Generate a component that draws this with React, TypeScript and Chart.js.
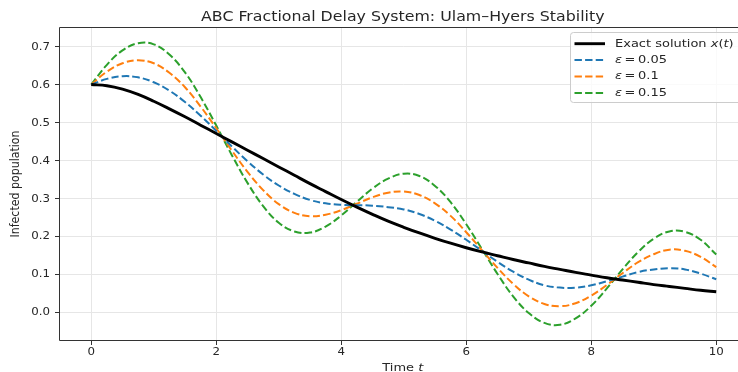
import { useEffect, useRef } from "react";
import { Chart, registerables } from "chart.js";

Chart.register(...registerables);

// ---- data ----
const timeT = [
  0, 0.25, 0.5, 0.75, 1, 1.25, 1.5, 1.75, 2, 2.25, 2.5, 2.75, 3, 3.25, 3.5, 3.75, 4, 4.25, 4.5, 4.75, 5,
  5.25, 5.5, 5.75, 6, 6.25, 6.5, 6.75, 7, 7.25, 7.5, 7.75, 8, 8.25, 8.5, 8.75, 9, 9.25, 9.5, 9.75, 10,
];
const exactX = [
  0.6, 0.597, 0.588, 0.574, 0.556, 0.536, 0.515, 0.493, 0.471, 0.449, 0.427, 0.405, 0.383, 0.361, 0.339,
  0.318, 0.297, 0.277, 0.258, 0.24, 0.224, 0.209, 0.195, 0.182, 0.17, 0.159, 0.149, 0.139, 0.13, 0.121,
  0.113, 0.105, 0.098, 0.091, 0.085, 0.079, 0.073, 0.068, 0.063, 0.058, 0.054,
];
const eps005 = [
  0.6, 0.615, 0.622, 0.619, 0.606, 0.584, 0.554, 0.518, 0.478, 0.437, 0.398, 0.363, 0.334, 0.312, 0.296,
  0.287, 0.283, 0.282, 0.281, 0.277, 0.271, 0.259, 0.241, 0.218, 0.191, 0.162, 0.133, 0.107, 0.086, 0.071,
  0.065, 0.065, 0.071, 0.082, 0.094, 0.106, 0.113, 0.116, 0.113, 0.102, 0.087,
];
const eps010 = [
  0.6, 0.634, 0.656, 0.664, 0.656, 0.631, 0.593, 0.542, 0.485, 0.426, 0.37, 0.322, 0.285, 0.262, 0.253,
  0.257, 0.269, 0.286, 0.303, 0.315, 0.318, 0.309, 0.287, 0.254, 0.211, 0.164, 0.117, 0.075, 0.042, 0.022,
  0.016, 0.024, 0.044, 0.072, 0.103, 0.132, 0.153, 0.165, 0.162, 0.146, 0.119,
];
const eps015 = [
  0.6, 0.652, 0.69, 0.709, 0.706, 0.679, 0.632, 0.567, 0.492, 0.414, 0.341, 0.28, 0.236, 0.213, 0.21,
  0.226, 0.255, 0.291, 0.326, 0.352, 0.365, 0.359, 0.333, 0.29, 0.232, 0.167, 0.101, 0.042, -0.002, -0.028,
  -0.033, -0.016, 0.017, 0.063, 0.113, 0.159, 0.194, 0.213, 0.212, 0.191, 0.152,
];
const xTickValues = [0, 2, 4, 6, 8, 10];
const yTickValues = [0, 0.1, 0.2, 0.3, 0.4, 0.5, 0.6, 0.7];
const epsLabels = ["0.05", "0.1", "0.15"];
const titleText = "ABC Fractional Delay System: Ulam\u2013Hyers Stability";
const yLabelText = "Infected population";

const FONT = '"DejaVu Sans", sans-serif';
const TEXT = "#262626";
const SX = 1.18; // horizontal text stretch seen in the reference

function stretchedText(ctx: CanvasRenderingContext2D, s: string, x: number, y: number, align: CanvasTextAlign) {
  ctx.save();
  ctx.translate(x, y);
  ctx.scale(SX, 1);
  ctx.textAlign = align;
  ctx.fillText(s, 0, 0);
  ctx.restore();
}

const decorPlugin = {
  id: "decor",
  beforeDraw(chart: any) {
    const ctx = chart.ctx;
    ctx.save();
    ctx.fillStyle = "#ffffff";
    ctx.fillRect(0, 0, chart.width, chart.height);
    ctx.restore();
  },
  afterDraw(chart: any) {
    const ctx: CanvasRenderingContext2D = chart.ctx;
    const a = chart.chartArea;
    const xs = chart.scales.x;
    const ys = chart.scales.y;
    ctx.save();
    // frame (left, top, bottom)
    ctx.strokeStyle = "#333333";
    ctx.lineWidth = 1;
    ctx.beginPath();
    ctx.moveTo(a.right + 1, a.bottom + 0.5);
    ctx.lineTo(a.left - 0.5, a.bottom + 0.5);
    ctx.lineTo(a.left - 0.5, a.top - 0.5);
    ctx.lineTo(a.right + 1, a.top - 0.5);
    ctx.stroke();

    // tick labels
    ctx.fillStyle = TEXT;
    ctx.font = `10px ${FONT}`;
    ctx.textBaseline = "middle";
    yTickValues.forEach((v) => {
      stretchedText(ctx, v.toFixed(1), a.left - 10, ys.getPixelForValue(v) + 0.5, "right");
    });
    xTickValues.forEach((v) => {
      stretchedText(ctx, String(v), xs.getPixelForValue(v), a.bottom + 12, "center");
    });

    const cx = (a.left + a.right) / 2 - 1;
    // title
    ctx.font = `13.4px ${FONT}`;
    ctx.textBaseline = "alphabetic";
    stretchedText(ctx, titleText, cx, 21, "center");

    // x label: "Time t"
    ctx.font = `11px ${FONT}`;
    const w1 = ctx.measureText("Time ").width * SX;
    ctx.font = `italic 11px ${FONT}`;
    const w2 = ctx.measureText("t").width * SX;
    const sx = cx - (w1 + w2) / 2;
    ctx.font = `11px ${FONT}`;
    stretchedText(ctx, "Time ", sx, 371, "left");
    ctx.font = `italic 11px ${FONT}`;
    stretchedText(ctx, "t", sx + w1, 371, "left");

    // y label
    ctx.save();
    ctx.translate(16, (a.top + a.bottom) / 2);
    ctx.rotate(-Math.PI / 2);
    ctx.scale(1, SX);
    ctx.font = `11px ${FONT}`;
    ctx.textAlign = "center";
    ctx.textBaseline = "middle";
    ctx.fillText(yLabelText, 0, 0);
    ctx.restore();

    // legend (its right side lies past the picture's edge)
    const bx = 570.5, by = 32.5, bw = 200, bh = 70;
    ctx.fillStyle = "rgba(255,255,255,0.8)";
    ctx.strokeStyle = "#cccccc";
    ctx.lineWidth = 1;
    ctx.beginPath();
    ctx.roundRect(bx, by, bw, bh, 3);
    ctx.fill();
    ctx.stroke();

    const ds = chart.data.datasets;
    for (let i = 0; i < 4; i++) {
      const ry = 43.7 + 16.4 * i;
      const d = ds[i];
      ctx.save();
      ctx.strokeStyle = d.borderColor;
      ctx.lineWidth = d.borderWidth;
      ctx.setLineDash(d.borderDash || []);
      ctx.beginPath();
      ctx.moveTo(574.5, ry);
      ctx.lineTo(605, ry);
      ctx.stroke();
      ctx.restore();
      ctx.fillStyle = TEXT;
      ctx.textBaseline = "middle";
      let tx = 615;
      const part = (s: string, italic: boolean, after = 0) => {
        ctx.font = `${italic ? "italic " : ""}11px ${FONT}`;
        stretchedText(ctx, s, tx, ry, "left");
        tx += ctx.measureText(s).width * SX + after;
      };
      if (i === 0) {
        part("Exact solution ", false);
        part("x", true);
        part("(", false);
        part("t", true);
        part(")", false);
      } else {
        part("\u03b5", true, 2.6);
        part("=", false, 2.6);
        part(epsLabels[i - 1], false);
      }
    }
    ctx.restore();
  },
};

function toXY(ys: number[]) {
  return ys.map((y, i) => ({ x: timeT[i], y }));
}

export default function App() {
  const ref = useRef<HTMLCanvasElement | null>(null);
  useEffect(() => {
    if (!ref.current) return;
    document.body.style.margin = "0";
    document.body.style.overflow = "hidden";
    const dash = [7.4, 3.2];
    const chart = new Chart(ref.current, {
      type: "line",
      data: {
        datasets: [
          { label: "Exact solution x(t)", data: toXY(exactX), borderColor: "#000000", borderWidth: 2.9, pointRadius: 0, tension: 0.4 },
          { label: "ε = 0.05", data: toXY(eps005), borderColor: "#1f77b4", borderWidth: 2, borderDash: dash, pointRadius: 0, tension: 0.4 },
          { label: "ε = 0.1", data: toXY(eps010), borderColor: "#ff7f0e", borderWidth: 2, borderDash: dash, pointRadius: 0, tension: 0.4 },
          { label: "ε = 0.15", data: toXY(eps015), borderColor: "#2ca02c", borderWidth: 2, borderDash: dash, pointRadius: 0, tension: 0.4 },
        ] as any,
      },
      options: {
        animation: false,
        responsive: false,
        devicePixelRatio: 1,
        // the plot runs on past the right edge of the 738px picture (x up to 10.5)
        layout: { padding: { left: 0, right: 12.5, top: 28, bottom: 0 } },
        plugins: { legend: { display: false }, title: { display: false }, tooltip: { enabled: false } },
        scales: {
          x: {
            type: "linear",
            min: -0.5,
            max: 10.5,
            afterFit: (s: any) => { s.height = 32; },
            afterBuildTicks: (s: any) => { s.ticks = xTickValues.map((v) => ({ value: v })); },
            border: { display: false },
            grid: { color: "#e6e6e6", lineWidth: 1, drawTicks: true, tickLength: 5, tickColor: "#333333" },
            ticks: { display: false },
          },
          y: {
            type: "linear",
            min: -0.073,
            max: 0.749,
            afterFit: (s: any) => { s.width = 60; },
            afterBuildTicks: (s: any) => { s.ticks = yTickValues.map((v) => ({ value: v })); },
            border: { display: false },
            grid: { color: "#e6e6e6", lineWidth: 1, drawTicks: true, tickLength: 5, tickColor: "#333333" },
            ticks: { display: false },
          },
        },
      } as any,
      plugins: [decorPlugin],
    });
    return () => chart.destroy();
  }, []);
  return (
    <div style={{ position: "fixed", left: 0, top: 0, width: 738, height: 372, overflow: "hidden", background: "#fff" }}>
      <canvas ref={ref} width={760} height={372} style={{ width: 760, height: 372, display: "block" }} />
    </div>
  );
}
